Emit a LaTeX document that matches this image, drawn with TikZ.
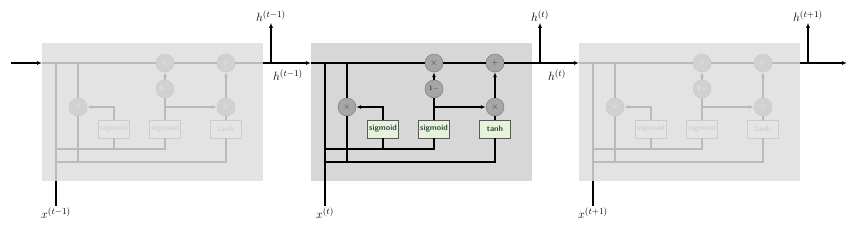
\documentclass[tikz,border=0pt]{standalone}
\usetikzlibrary{arrows.meta}

\definecolor{cellgray}{HTML}{D7D7D7}
\definecolor{fadegray}{HTML}{E3E3E3}
\definecolor{gatefill}{HTML}{E6F2DC}
\definecolor{gatetext}{HTML}{2D4A3C}

\begin{document}
\begin{tikzpicture}
[
    x=1pt, y=-1pt,
    >={Latex[length=5pt,width=4pt]},
    link/.style={line width=1.3pt, draw=black},
    lab/.style={font=\fontsize{13}{14}\selectfont, inner sep=1pt},
    active/.style={
        cellbox/.style={fill=cellgray},
        wire/.style={line width=1.3pt, draw=black},
        op/.style={draw=black!55, fill=black!35, circle, minimum size=18pt,
            inner sep=0pt, font=\fontsize{9}{10}\selectfont, text=black!75},
        gate/.style={draw=black!65, fill=gatefill, minimum width=31pt,
            minimum height=18pt, inner sep=0pt, text=gatetext,
            font=\fontsize{8}{9}\sffamily\bfseries}
    },
    faded/.style={
        cellbox/.style={fill=fadegray},
        wire/.style={line width=1.3pt, draw=black!27},
        op/.style={draw=black!22, fill=black!18, circle, minimum size=18pt,
            inner sep=0pt, font=\fontsize{9}{10}\selectfont, text=black!8},
        gate/.style={draw=black!20, fill=black!10, minimum width=31pt,
            minimum height=18pt, inner sep=0pt, text=black!18,
            font=\fontsize{8}{9}\sffamily\bfseries}
    }
]
    \useasboundingbox (0,0) rectangle (857,228);

    \foreach \c/\xo/\st/\ti in {1/42/faded/t-1, 2/311/active/t, 3/579/faded/t+1}
    {
        \begin{scope}[shift={(\xo,0)}, \st]
            \fill[cellbox] (0,43) rectangle (221,181);
            \coordinate (in\c) at (0,63);
            \coordinate (out\c) at (221,63);
            \coordinate (xt\c) at (14,63);
            \coordinate (rt\c) at (36,63);
            \coordinate (xb\c) at (14,181);
            \coordinate (ja\c) at (14,149);
            \coordinate (jb\c) at (14,162);
            \coordinate (tap\c) at (229,63);

            \node [op] (mz\c) at (123,63) {$\times$};
            \node [op] (add\c) at (184,63) {$+$};
            \node [op] (one\c) at (123,89) {\scriptsize$\mathbf{1}-$};
            \node [op] (mr\c) at (36,107) {$\times$};
            \node [op] (mh\c) at (184,107) {$\times$};
            \node [gate] (sr\c) at (72,129) {sigmoid};
            \node [gate] (sz\c) at (123,129) {sigmoid};
            \node [gate] (th\c) at (184,129) {tanh};

            \draw[wire] (in\c) -- (mz\c) -- (add\c) -- (out\c);
            \draw[wire] (xt\c) -- (xb\c);
            \draw[wire] (ja\c) -| (sz\c);
            \draw[wire] (sr\c) -- (sr\c |- ja\c);
            \draw[wire] (jb\c) -| (th\c);
            \draw[wire] (rt\c) -- (mr\c) -- (mr\c |- jb\c);
            \draw[wire,->] (sr\c) |- (mr\c);
            \draw[wire] (sz\c) -- (one\c);
            \draw[wire,->] (one\c) -- (mz\c);
            \draw[wire,->] (sz\c |- mh\c) -- (mh\c);
            \draw[wire] (th\c) -- (mh\c);
            \draw[wire,->] (mh\c) -- (add\c);

            \node [lab] (hout\c) at (229,16) {$h^{(\ti)}$};
            \node [lab] (xlab\c) at (14,213) {$x^{(\ti)}$};
            \draw[link,->] (tap\c) -- (hout\c);
            \draw[link] (xb\c) -- (xlab\c);
        \end{scope}
    }

    % links between the cells
    \coordinate (start) at (11,63);
    \coordinate (end) at (847,63);
    \draw[link,->] (start) -- (in1);
    \draw[link,->] (out1) -- (in2);
    \draw[link,->] (out2) -- (in3);
    \draw[link,->] (out3) -- (end);

    \node [lab] (hb1) at (288,75) {$h^{(t-1)}$};
    \node [lab] (hb2) at (557,75) {$h^{(t)}$};
\end{tikzpicture}
\end{document}
